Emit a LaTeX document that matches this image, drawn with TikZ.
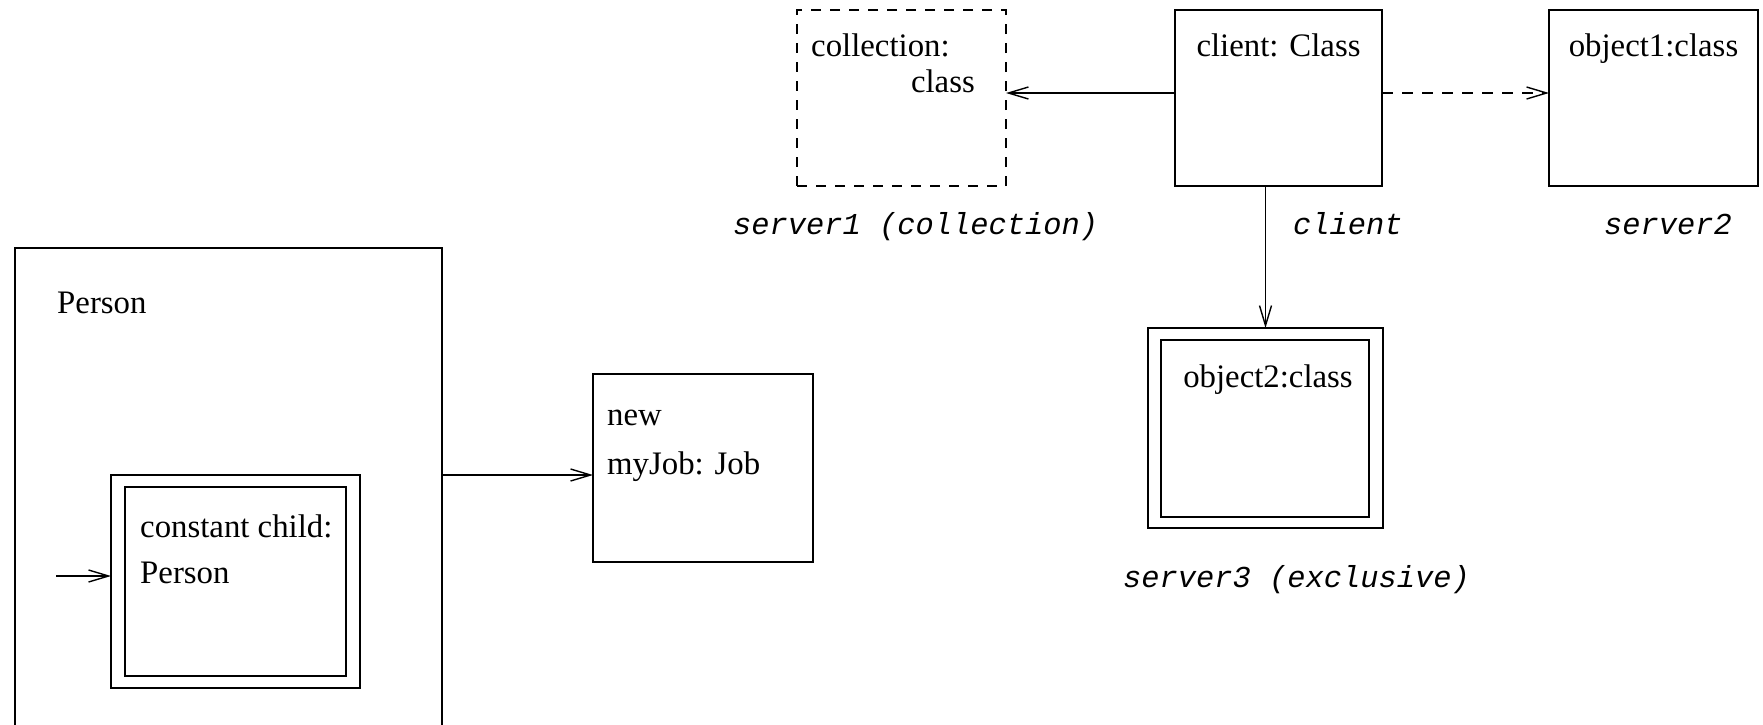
\documentclass[tikz,border=0pt]{standalone}
\usepackage{fontspec}
\setmainfont{Liberation Serif}
\setmonofont{Liberation Mono}
\usetikzlibrary{arrows.meta,calc}

\tikzset{
  box/.style={draw, rectangle, line width=1.8pt, inner sep=0pt, outer sep=0pt, anchor=north west},
  dashbox/.style={box, dash pattern=on 10pt off 9pt},
  lbl/.style={inner sep=0pt, font=\fontsize{32.8}{36}\selectfont},
  role/.style={inner sep=0pt, font=\fontsize{30.4}{34}\selectfont\ttfamily\itshape, anchor=base west},
  conn/.style={line width=1.4pt, -{Straight Barb[length=20pt,width=12pt,line width=1.4pt]}},
  dconn/.style={conn, dash pattern=on 11pt off 9pt}
}

\begin{document}
\begin{tikzpicture}[x=1pt, y=-1pt]
  \useasboundingbox (0,0) rectangle (1763,724);
  \clip (0,0) rectangle (1763,724);

  % Person object with its constant child
  \node[box, minimum width=427pt, minimum height=512pt] (person) at (15,248) {};
  \node[lbl, anchor=base west] (personlbl) at (57,313) {Person};
  \node[box, minimum width=249pt, minimum height=213pt] (childo) at (111,475) {};
  \node[box, minimum width=221pt, minimum height=189pt] (childi) at (125,487) {};
  \node[lbl, anchor=base west] (childlbl1) at (140,537) {constant child:};
  \node[lbl, anchor=base west] (childlbl2) at (140,583) {Person};
  \coordinate (childin) at (56,576);
  \draw[conn] (childin) -- (childin -| childo.west);

  % new job
  \node[box, minimum width=220pt, minimum height=188pt] (job) at (593,374) {};
  \node[lbl, anchor=base west] (joblbl1) at (607,425) {new};
  \node[lbl, anchor=base west] (joblbl2) at (607,474) {myJob: Job};
  \draw[conn] (person.east |- childo.north) -- (job.west |- childo.north);

  % client and its servers
  \node[dashbox, minimum width=209pt, minimum height=176pt] (coll) at (797,10) {};
  \node[lbl, anchor=base west] (colllbl1) at (811,56) {collection:};
  \node[lbl, anchor=base east] (colllbl2) at (975,92) {class};

  \node[box, minimum width=207pt, minimum height=176pt] (client) at (1175,10) {};
  \node[lbl, anchor=base] (clientlbl) at (client.north) [yshift=-46pt] {client: Class};

  \node[box, minimum width=209pt, minimum height=176pt] (obj1) at (1549,10) {};
  \node[lbl, anchor=base] (obj1lbl) at (obj1.north) [yshift=-46pt] {object1:class};

  \node[box, minimum width=235pt, minimum height=200pt] (obj2o) at (1148,328) {};
  \node[box, minimum width=208pt, minimum height=177pt] (obj2i) at (1161,340) {};
  \node[lbl, anchor=base] (obj2lbl) at (1268,387) {object2:class};

  \coordinate (row) at (1175,93);
  \draw[conn] (client.west |- row) -- (coll.east |- row);
  \draw[dconn] (client.east |- row) -- (obj1.west |- row);
  \draw[conn] (obj2o.north |- client.south) -- (obj2o.north);

  % role names
  \node[role] (r1) at (733,234) {server1 (collection)};
  \node[role] (r2) at (1293,234) {client};
  \node[role] (r3) at (1604,234) {server2};
  \node[role] (r4) at (1123,587) {server3 (exclusive)};
\end{tikzpicture}
\end{document}
